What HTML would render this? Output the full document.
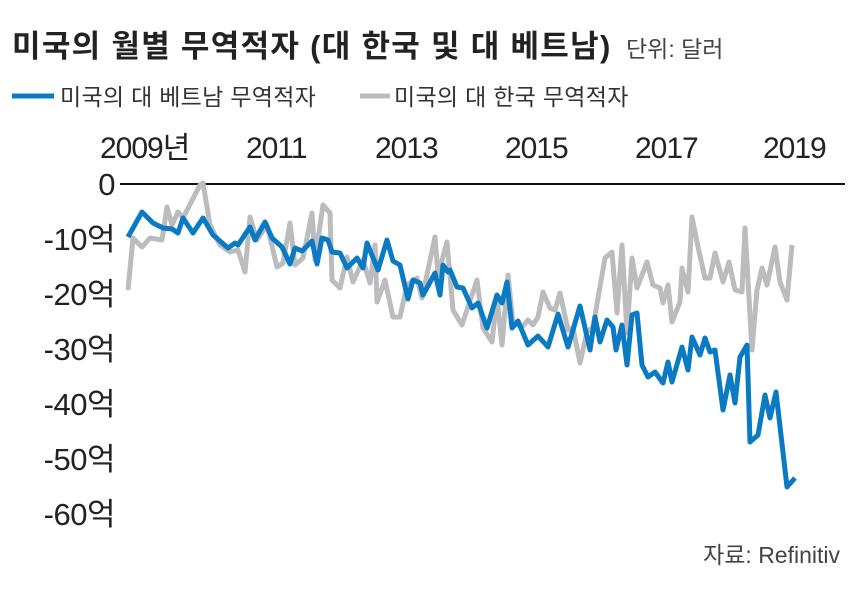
<!DOCTYPE html>
<html><head><meta charset="utf-8"><style>
body{margin:0;background:#fff;}
svg{display:block;}
text{font-family:"Liberation Sans","Noto Sans CJK KR",sans-serif;}
</style></head><body>
<svg width="857" height="597" viewBox="0 0 857 597">
<text x="12" y="57" font-size="31" font-weight="bold" fill="#222" letter-spacing="1.3">미국의 월별 무역적자 (대 한국 및 대 베트남)</text>
<text x="626" y="57" font-size="23" fill="#444">단위: 달러</text>
<line x1="12" y1="96" x2="54" y2="96" stroke="#0a7bc2" stroke-width="5"/>
<text x="60" y="105" font-size="23" fill="#333" letter-spacing="0.3">미국의 대 베트남 무역적자</text>
<line x1="360" y1="96" x2="390" y2="96" stroke="#bcbcbf" stroke-width="5"/>
<text x="394" y="105" font-size="23" fill="#333" letter-spacing="0.3">미국의 대 한국 무역적자</text>
<g font-size="30" fill="#222" letter-spacing="-1">
<text x="100" y="158">2009년</text>
<text x="246" y="158">2011</text>
<text x="375" y="158">2013</text>
<text x="505" y="158">2015</text>
<text x="635" y="158">2017</text>
<text x="763" y="158">2019</text>
</g>
<g font-size="31" fill="#222" letter-spacing="-0.5" text-anchor="end">
<text x="115" y="195">0</text>
<text x="115" y="250">-10억</text>
<text x="115" y="305">-20억</text>
<text x="115" y="360">-30억</text>
<text x="115" y="415">-40억</text>
<text x="115" y="470">-50억</text>
<text x="115" y="525">-60억</text>
</g>
<line x1="120" y1="184" x2="845" y2="184" stroke="#111" stroke-width="2"/>
<polyline fill="none" stroke="#bcbcbf" stroke-width="5" stroke-linejoin="round" points="128,290 133,238 142,247 150,238 162,240 167,207 172,225 178,212 183,218 200,185 203,183 210,225 220,245 230,252 238,250 245,272 250,217 257,240 267,225 277,267 283,263 290,223 295,265 303,258 312,213 315,260 323,205 330,213 332,280 340,288 347,257 353,282 363,260 370,283 375,245 377,302 385,280 393,317 400,317 407,285 417,278 422,298 435,237 438,275 447,242 453,310 462,325 477,280 483,328 492,342 497,297 502,345 508,275 513,323 522,327 528,320 533,325 538,317 543,292 550,308 555,310 560,293 568,330 573,328 580,363 587,332 593,327 605,258 612,252 617,313 622,245 627,333 632,258 637,288 647,262 653,285 660,288 663,303 668,285 672,322 680,302 682,268 688,292 692,217 698,247 705,278 710,278 715,253 723,282 729,262 735,290 742,292 745,228 752,350 757,290 762,268 767,285 775,247 780,282 787,300 792,245"/>
<polyline fill="none" stroke="#0a7bc2" stroke-width="5" stroke-linejoin="round" points="128,237 142,212 153,223 163,228 172,229 178,233 183,218 193,233 203,218 213,235 228,248 235,243 238,245 250,227 255,240 265,222 272,238 282,247 290,264 295,248 302,251 312,241 317,264 322,238 328,240 332,252 340,253 347,268 357,258 363,268 367,243 378,270 387,240 393,261 400,265 408,299 413,280 420,283 423,295 435,273 440,295 443,265 448,272 450,270 457,287 463,288 472,308 478,303 487,328 497,295 502,303 507,282 512,328 518,321 528,345 538,336 548,347 558,314 568,347 580,306 590,350 595,317 600,342 607,320 613,327 616,350 622,325 627,365 632,315 637,313 642,365 648,377 655,372 663,383 668,362 672,382 682,347 688,370 692,337 700,355 705,338 710,352 715,350 723,410 730,375 735,403 740,357 747,345 750,442 758,435 765,395 770,418 776,392 787,487 795,478"/>
<text x="840" y="563" font-size="23" fill="#444" text-anchor="end">자료: Refinitiv</text>
</svg>
</body></html>
